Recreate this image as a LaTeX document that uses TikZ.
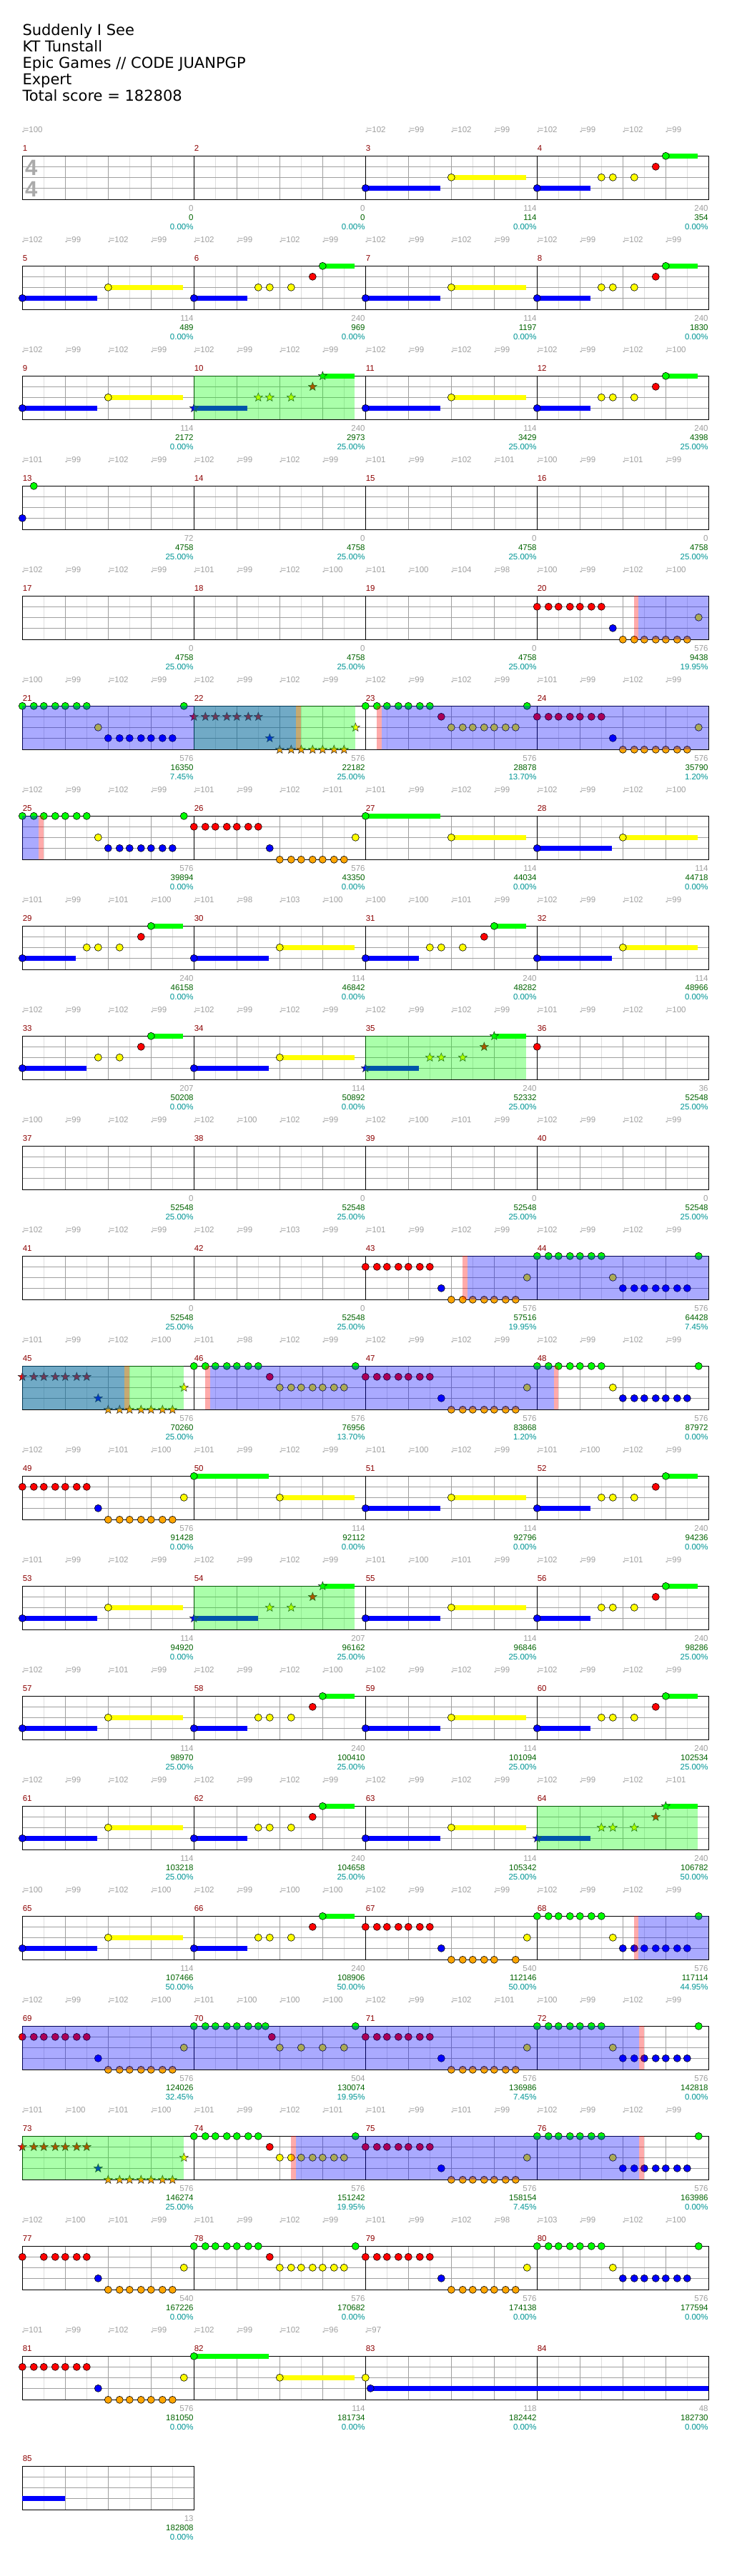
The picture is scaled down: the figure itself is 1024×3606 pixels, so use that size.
\documentclass[tikz,border=0pt]{standalone}
\usepackage{fontspec}
\setmainfont{Liberation Sans}
\newfontfamily\titlefont{DejaVu Sans}
\newfontfamily\notefont{DejaVu Sans}
\definecolor{c0}{RGB}{0,255,0}
\definecolor{c1}{RGB}{255,0,0}
\definecolor{c2}{RGB}{255,255,0}
\definecolor{c3}{RGB}{0,0,255}
\definecolor{c4}{RGB}{255,165,0}
\definecolor{mnumc}{RGB}{140,0,0}
\definecolor{gtxt}{RGB}{160,160,160}
\definecolor{stxt}{RGB}{0,100,0}
\definecolor{ptxt}{RGB}{0,150,150}
\definecolor{lanec}{RGB}{160,160,160}
\definecolor{eighthc}{RGB}{222,222,222}
\definecolor{tsigc}{RGB}{170,170,170}
\tikzset{
 tempotxt/.style={anchor=base west,inner sep=0pt,text=gtxt,font=\fontsize{11.5}{12}\selectfont},
 numtxt/.style={anchor=base east,inner sep=0pt,font=\fontsize{11.5}{12}\selectfont},
 mnum/.style={anchor=base west,inner sep=0pt,text=mnumc,font=\fontsize{11.5}{12}\selectfont},
 titletxt/.style={anchor=base west,inner sep=0pt,font=\titlefont\fontsize{21}{23}\selectfont},
 nhead/.style={draw=black,line width=0.6pt},
 starhead/.style={draw=black!85,line width=0.5pt},
 tsig/.style={anchor=base west,inner sep=0pt,text=tsigc,font=\bfseries\fontsize{31}{31}\selectfont},
}
% position of measure m, offset o, lane l
\newcommand\setpos[3]{%
 \pgfmathsetmacro\px{31.3+240*mod(#1-1,4)+#2}%
 \pgfmathsetmacro\py{218.3+154*floor((#1-1)/4)+15*#3+(#3==4)}}
\newcommand\hd[3]{\setpos{#1}{#2}{#3}\filldraw[fill=c#3,nhead] (\px,\py) circle[radius=5pt];}
\newcommand\nstar[3]{\setpos{#1}{#2}{#3}%
 \filldraw[fill=c#3,starhead,shift={(\px,\py)}] (90:6.3pt) -- (126:2.6pt) -- (162:6.3pt) -- (198:2.6pt) -- (234:6.3pt) -- (270:2.6pt) -- (306:6.3pt) -- (342:2.6pt) -- (18:6.3pt) -- (54:2.6pt) -- cycle;}
\newcommand\tail[4]{\setpos{#1}{#2}{#3}\fill[c#3] (\px,\py-3.4) rectangle ({\px+#4},\py+3.4);}
\newcommand\runn[3]{\foreach \o in {0,16,30,46,60,76,90}{\hd{#1}{#2+\o}{#3}}}
\newcommand\runs[3]{\foreach \o in {0,16,30,46,60,76,90}{\nstar{#1}{#2+\o}{#3}}}
% patterns
\newcommand\PAa[1]{\tail{#1}{0}{3}{105}\hd{#1}{0}{3}\tail{#1}{120}{2}{105}\hd{#1}{120}{2}}
\newcommand\PGa[1]{\tail{#1}{0}{0}{105}\hd{#1}{0}{0}\tail{#1}{120}{2}{105}\hd{#1}{120}{2}}
\newcommand\PAb[1]{\tail{#1}{0}{3}{75}\hd{#1}{0}{3}\hd{#1}{90}{2}\hd{#1}{106}{2}\hd{#1}{136}{2}\hd{#1}{166}{1}\tail{#1}{180}{0}{45}\hd{#1}{180}{0}}
\newcommand\PAbs[1]{\tail{#1}{0}{3}{75}\nstar{#1}{0}{3}\nstar{#1}{90}{2}\nstar{#1}{106}{2}\nstar{#1}{136}{2}\nstar{#1}{166}{1}\tail{#1}{180}{0}{45}\nstar{#1}{180}{0}}
\newcommand\PAbp[1]{\tail{#1}{0}{3}{90}\hd{#1}{0}{3}\hd{#1}{106}{2}\hd{#1}{136}{2}\hd{#1}{166}{1}\tail{#1}{180}{0}{45}\hd{#1}{180}{0}}
\newcommand\PAbps[1]{\tail{#1}{0}{3}{90}\nstar{#1}{0}{3}\nstar{#1}{106}{2}\nstar{#1}{136}{2}\nstar{#1}{166}{1}\tail{#1}{180}{0}{45}\nstar{#1}{180}{0}}
\newcommand\PX[1]{\runn{#1}{0}{0}\hd{#1}{106}{2}\runn{#1}{120}{3}\hd{#1}{226}{0}}
\newcommand\PXp[1]{\runn{#1}{0}{0}\hd{#1}{106}{1}\runn{#1}{120}{2}\hd{#1}{226}{0}}
\newcommand\PY[1]{\runn{#1}{0}{1}\hd{#1}{106}{3}\runn{#1}{120}{4}\hd{#1}{226}{2}}
\newcommand\PYs[1]{\runs{#1}{0}{1}\nstar{#1}{106}{3}\runs{#1}{120}{4}\nstar{#1}{226}{2}}
% staff of row r with n measures
\newcommand\staffrow[2]{%
 \pgfmathsetmacro\T{218.3+154*(#1-1)}%
 \pgfmathsetmacro\R{31.3+240*#2}%
 \pgfmathtruncatemacro\K{8*#2-1}%
 \foreach \k in {1,3,...,\K}{\draw[eighthc,line width=0.8pt] ({31.3+30*\k},\T) -- ++(0,61);}%
 \foreach \l in {15,30,45}{\draw[lanec,line width=0.9pt] (31.3,\T+\l) -- (\R,\T+\l);}%
 \foreach \k in {2,4,...,\K}{%
   \pgfmathtruncatemacro\km{mod(\k,8)}%
   \ifnum\km=0 \draw[black,line width=0.8pt] ({31.3+30*\k},\T) -- ++(0,61);%
   \else \draw[lanec,line width=0.9pt] ({31.3+30*\k},\T) -- ++(0,61);\fi}%
 \draw[black,line width=1.1pt] (31.3,\T) rectangle (\R,\T+61);}
\newcommand\ov[4]{\fill[#4,opacity=0.333] ({31.3+#2},{218.3+154*(#1-1)}) rectangle ({31.3+#3},{218.3+154*(#1-1)+61});}
\newcommand\tmark[3]{%
 \pgfmathsetmacro\tT{218.3+154*(#1-1)-33}%
 \pgfmathsetmacro\tX{30.3+60*#2}%
 \node[tempotxt] (t#1x#2) at (\tX,\tT) {{\notefont\fontsize{10}{10}\selectfont ♩}\kern-1.5pt=#3};}
\newcommand\tmarks[3]{\foreach \v [count=\i from #2] in {#3}{\tmark{#1}{\i}{\v}}}
\newcommand\scorenums[4]{%
 \pgfmathsetmacro\qx{31.3+240*mod(#1-1,4)+240-0.5}%
 \pgfmathsetmacro\qT{218.3+154*floor((#1-1)/4)}%
 \node[numtxt,text=gtxt] (g#1) at (\qx,\qT+77) {#2};
 \node[numtxt,text=stxt] (s#1) at (\qx,\qT+90) {#3};
 \node[numtxt,text=ptxt] (p#1) at (\qx,\qT+103) {#4\%};}
\begin{document}
\begin{tikzpicture}[x=1pt,y=-1pt]
\useasboundingbox (0,0) rectangle (1024,3606);
\fill[white] (0,0) rectangle (1024,3606);
% title
\node[titletxt] (ttl1) at (31.3,49.3) {Suddenly I See};
\node[titletxt] (ttl2) at (31.3,72.4) {KT Tunstall};
\node[titletxt] (ttl3) at (31.3,95.5) {Epic Games // CODE JUANPGP};
\node[titletxt] (ttl4) at (31.3,118.6) {Expert};
\node[titletxt] (ttl5) at (31.3,141.7) {Total score = 182808};
% staves
\foreach \r in {1,...,21}{\staffrow{\r}{4}}
\staffrow{22}{1}
\node[tsig] (ts1) at (35,245.3) {4};
\node[tsig] (ts2) at (35,275.3) {4};
% notes
\PAa{3}\PAb{4}
\PAa{5}\PAb{6}\PAa{7}\PAb{8}
\PAa{9}\PAbs{10}\PAa{11}\PAb{12}
\hd{13}{0}{3}\hd{13}{16}{0}
\PY{20}
\PX{21}\PYs{22}\PXp{23}\PY{24}
\PX{25}\PY{26}\PGa{27}\PAa{28}
\PAb{29}\PAa{30}\PAb{31}\PAa{32}
\PAbp{33}\PAa{34}\PAbs{35}\hd{36}{0}{1}
\PY{43}\PX{44}
\PYs{45}\PXp{46}\PY{47}\PX{48}
\PY{49}\PGa{50}\PAa{51}\PAb{52}
\PAa{53}\PAbps{54}\PAa{55}\PAb{56}
\PAa{57}\PAb{58}\PAa{59}\PAb{60}
\PAa{61}\PAb{62}\PAa{63}\PAbs{64}
\PAa{65}\PAb{66}
\runn{67}{0}{1}\hd{67}{106}{3}\foreach \o in {120,136,150,166,180,210}{\hd{67}{\o}{4}}\hd{67}{226}{2}
\PX{68}
\PY{69}
\runn{70}{0}{0}\hd{70}{100}{0}\hd{70}{109}{1}\foreach \o in {120,150,180,210}{\hd{70}{\o}{2}}\hd{70}{226}{0}
\PY{71}\PX{72}
\PYs{73}\PXp{74}\PY{75}\PX{76}
\foreach \o in {0,30,46,60,76,90}{\hd{77}{\o}{1}}\hd{77}{106}{3}\runn{77}{120}{4}\hd{77}{226}{2}
\PXp{78}\PY{79}\PX{80}
\PY{81}\PGa{82}
\hd{83}{0}{2}\tail{83}{7}{3}{473}\hd{83}{7}{3}
\tail{85}{0}{3}{60}
% overlays: green, blue, red
\ov{3}{240}{465}{c0}
\ov{6}{240}{466}{c0}
\ov{9}{480}{705}{c0}
\ov{12}{0}{226}{c0}
\ov{14}{240}{465}{c0}
\ov{16}{720}{945}{c0}
\ov{19}{0}{226}{c0}
\ov{5}{862}{960}{c3}
\ov{6}{0}{383}{c3}\ov{6}{503}{960}{c3}
\ov{7}{0}{23}{c3}
\ov{11}{623}{960}{c3}
\ov{12}{0}{143}{c3}\ov{12}{263}{744}{c3}
\ov{17}{862}{960}{c3}
\ov{18}{0}{863}{c3}
\ov{19}{383}{863}{c3}
\ov{5}{856}{862}{c1}
\ov{6}{383}{390}{c1}\ov{6}{496}{503}{c1}
\ov{7}{23}{30}{c1}
\ov{11}{616}{623}{c1}
\ov{12}{143}{150}{c1}\ov{12}{256}{263}{c1}\ov{12}{744}{750}{c1}
\ov{17}{856}{862}{c1}
\ov{18}{863}{870}{c1}
\ov{19}{376}{383}{c1}\ov{19}{863}{870}{c1}
% measure numbers
\foreach \m in {1,...,85}{%
 \pgfmathsetmacro\mx{31.6+240*mod(\m-1,4)}%
 \pgfmathsetmacro\my{218.3+154*floor((\m-1)/4)-7}%
 \node[mnum] (m\m) at (\mx,\my) {\m};}
% tempo marks
\tmarks{1}{0}{100}
\tmarks{1}{8}{102,99,102,99,102,99,102,99}
\tmarks{2}{0}{102,99,102,99,102,99,102,99,102,99,102,99,102,99,102,99}
\tmarks{3}{0}{102,99,102,99,102,99,102,99,102,99,102,99,102,99,102,100}
\tmarks{4}{0}{101,99,102,99,102,99,102,99,101,99,102,101,100,99,101,99}
\tmarks{5}{0}{102,99,102,99,101,99,102,100,101,100,104,98,100,99,102,100}
\tmarks{6}{0}{100,99,102,99,102,99,102,99,102,99,102,99,101,99,102,99}
\tmarks{7}{0}{102,99,102,99,101,99,102,101,101,99,102,99,102,99,102,100}
\tmarks{8}{0}{101,99,101,100,101,98,103,100,100,100,101,99,102,99,102,99}
\tmarks{9}{0}{102,99,102,99,102,99,102,99,102,99,102,99,101,99,102,100}
\tmarks{10}{0}{100,99,102,99,102,100,102,99,102,100,101,99,102,99,102,99}
\tmarks{11}{0}{102,99,102,99,102,99,103,99,101,99,102,99,102,99,102,99}
\tmarks{12}{0}{101,99,102,100,101,98,102,99,102,99,102,99,102,99,102,99}
\tmarks{13}{0}{102,99,101,100,101,99,102,99,101,100,102,99,101,100,102,99}
\tmarks{14}{0}{101,99,102,99,102,99,102,99,101,100,101,99,102,99,101,99}
\tmarks{15}{0}{102,99,101,99,102,99,102,100,102,99,102,99,102,99,102,99}
\tmarks{16}{0}{102,99,102,99,102,99,102,99,102,99,102,99,102,99,102,101}
\tmarks{17}{0}{100,99,102,100,102,99,100,100,102,99,102,99,102,99,102,99}
\tmarks{18}{0}{102,99,102,100,101,100,100,100,102,99,102,101,100,99,102,99}
\tmarks{19}{0}{101,100,101,100,101,99,102,101,101,99,101,99,102,99,102,99}
\tmarks{20}{0}{102,100,101,99,101,99,102,99,101,99,102,98,103,99,102,100}
\tmarks{21}{0}{101,99,102,99,102,99,102,96,97}
% scores
\foreach \m/\g/\s/\p in {1/0/0/0.00,2/0/0/0.00,3/114/114/0.00,4/240/354/0.00,
 5/114/489/0.00,6/240/969/0.00,7/114/1197/0.00,8/240/1830/0.00,
 9/114/2172/0.00,10/240/2973/25.00,11/114/3429/25.00,12/240/4398/25.00,
 13/72/4758/25.00,14/0/4758/25.00,15/0/4758/25.00,16/0/4758/25.00,
 17/0/4758/25.00,18/0/4758/25.00,19/0/4758/25.00,20/576/9438/19.95,
 21/576/16350/7.45,22/576/22182/25.00,23/576/28878/13.70,24/576/35790/1.20,
 25/576/39894/0.00,26/576/43350/0.00,27/114/44034/0.00,28/114/44718/0.00,
 29/240/46158/0.00,30/114/46842/0.00,31/240/48282/0.00,32/114/48966/0.00,
 33/207/50208/0.00,34/114/50892/0.00,35/240/52332/25.00,36/36/52548/25.00,
 37/0/52548/25.00,38/0/52548/25.00,39/0/52548/25.00,40/0/52548/25.00,
 41/0/52548/25.00,42/0/52548/25.00,43/576/57516/19.95,44/576/64428/7.45,
 45/576/70260/25.00,46/576/76956/13.70,47/576/83868/1.20,48/576/87972/0.00,
 49/576/91428/0.00,50/114/92112/0.00,51/114/92796/0.00,52/240/94236/0.00,
 53/114/94920/0.00,54/207/96162/25.00,55/114/96846/25.00,56/240/98286/25.00,
 57/114/98970/25.00,58/240/100410/25.00,59/114/101094/25.00,60/240/102534/25.00,
 61/114/103218/25.00,62/240/104658/25.00,63/114/105342/25.00,64/240/106782/50.00,
 65/114/107466/50.00,66/240/108906/50.00,67/540/112146/50.00,68/576/117114/44.95,
 69/576/124026/32.45,70/504/130074/19.95,71/576/136986/7.45,72/576/142818/0.00,
 73/576/146274/25.00,74/576/151242/19.95,75/576/158154/7.45,76/576/163986/0.00,
 77/540/167226/0.00,78/576/170682/0.00,79/576/174138/0.00,80/576/177594/0.00,
 81/576/181050/0.00,82/114/181734/0.00,83/118/182442/0.00,84/48/182730/0.00,
 85/13/182808/0.00}{\scorenums{\m}{\g}{\s}{\p}}
\end{tikzpicture}
\end{document}
